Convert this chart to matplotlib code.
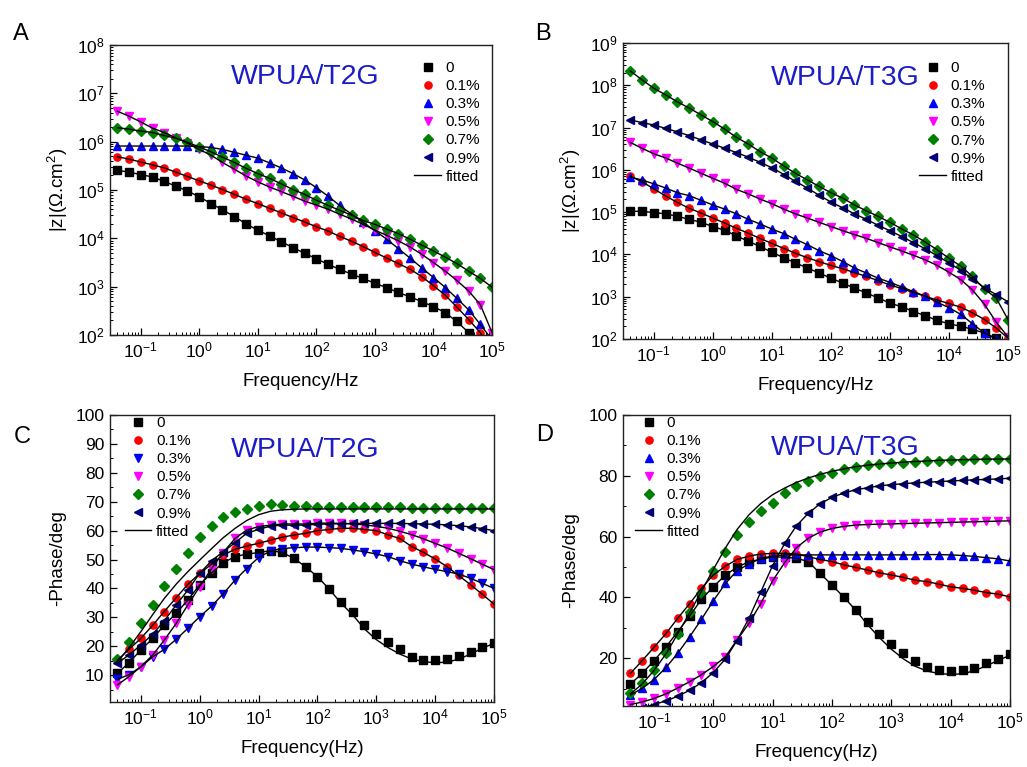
import numpy as np
import matplotlib.pyplot as plt
from matplotlib.lines import Line2D
from matplotlib.ticker import LogLocator, MultipleLocator, NullFormatter

plt.rcParams['font.family'] = ['Liberation Sans', 'DejaVu Sans']
plt.rcParams['mathtext.fontset'] = 'custom'
plt.rcParams['mathtext.rm'] = 'Liberation Sans'
plt.rcParams['mathtext.it'] = 'Liberation Sans:italic'
plt.rcParams['mathtext.bf'] = 'Liberation Sans:bold'

# ---------------- data ----------------
freq = [0.04, 0.063, 0.1, 0.16, 0.25, 0.4, 0.63, 1, 1.6, 2.5, 4, 6.3, 10, 16, 25, 40, 63,
        100, 160, 250, 400, 630, 1000, 1600, 2500, 4000, 6300,
        1e4, 1.6e4, 2.5e4, 4e4, 6.3e4, 1e5]

labels = ['0', '0.1%', '0.3%', '0.5%', '0.7%', '0.9%']
colors = ['#000000', '#ff0000', '#0000ff', '#ff00ff', '#008000', '#000080']

# A: WPUA/T2G, log10 |Z|
a_0 = [5.41, 5.37, 5.32, 5.27, 5.18, 5.08, 4.98, 4.86, 4.72, 4.59, 4.45, 4.30, 4.17, 4.05, 3.93, 3.81, 3.69,
       3.58, 3.46, 3.36, 3.26, 3.17, 3.07, 2.98, 2.88, 2.79, 2.69, 2.59, 2.46, 2.28, 2.05, 1.75, 1.35]
a_01 = [5.69, 5.64, 5.58, 5.52, 5.46, 5.37, 5.28, 5.19, 5.10, 5.01, 4.91, 4.81, 4.72, 4.62, 4.53, 4.43, 4.34,
        4.24, 4.15, 4.04, 3.94, 3.83, 3.71, 3.59, 3.48, 3.36, 3.21, 3.02, 2.82, 2.58, 2.32, 2.05, 1.60]
a_03 = [5.91, 5.91, 5.91, 5.91, 5.91, 5.91, 5.91, 5.90, 5.88, 5.84, 5.78, 5.72, 5.66, 5.56, 5.46, 5.34, 5.21,
        5.05, 4.87, 4.68, 4.50, 4.33, 4.16, 3.98, 3.79, 3.59, 3.39, 3.19, 2.98, 2.76, 2.52, 2.22, 1.90]
a_05 = [6.63, 6.53, 6.41, 6.28, 6.19, 6.08, 5.97, 5.84, 5.72, 5.57, 5.43, 5.29, 5.17, 5.06, 4.97, 4.87, 4.77,
        4.69, 4.60, 4.50, 4.40, 4.29, 4.17, 4.06, 3.95, 3.82, 3.67, 3.50, 3.32, 3.13, 2.91, 2.63, 2.05]
a_07 = [6.29, 6.26, 6.22, 6.19, 6.13, 6.07, 5.99, 5.89, 5.79, 5.68, 5.57, 5.45, 5.34, 5.24, 5.13, 5.01, 4.91,
        4.79, 4.68, 4.58, 4.48, 4.37, 4.29, 4.19, 4.10, 3.98, 3.86, 3.74, 3.61, 3.48, 3.32, 3.17, 2.99]
a_09 = []

# B: WPUA/T3G, log10 |Z|
b_0 = [5.02, 5.02, 4.99, 4.96, 4.90, 4.83, 4.76, 4.66, 4.57, 4.44, 4.31, 4.19, 4.05, 3.92, 3.80, 3.68, 3.56,
       3.44, 3.32, 3.20, 3.09, 2.97, 2.85, 2.76, 2.65, 2.55, 2.44, 2.36, 2.30, 2.23, 2.14, 2.02, 1.70]
b_01 = [5.85, 5.72, 5.55, 5.38, 5.23, 5.09, 4.98, 4.86, 4.74, 4.62, 4.50, 4.38, 4.26, 4.14, 4.03, 3.92, 3.83,
        3.74, 3.66, 3.57, 3.48, 3.38, 3.28, 3.19, 3.10, 3.01, 2.92, 2.84, 2.75, 2.62, 2.46, 2.26, 2.02]
b_03 = [5.83, 5.76, 5.67, 5.57, 5.46, 5.39, 5.28, 5.17, 5.07, 4.96, 4.83, 4.72, 4.60, 4.49, 4.36, 4.23, 4.09,
        3.97, 3.83, 3.68, 3.56, 3.44, 3.34, 3.23, 3.12, 3.01, 2.87, 2.74, 2.58, 2.36, 2.14, 2.00, 1.80]
b_05 = [6.65, 6.51, 6.38, 6.28, 6.16, 6.04, 5.92, 5.80, 5.68, 5.54, 5.43, 5.31, 5.20, 5.07, 4.96, 4.86, 4.76,
        4.66, 4.56, 4.47, 4.38, 4.28, 4.18, 4.08, 3.98, 3.87, 3.74, 3.58, 3.40, 3.16, 2.82, 2.40, 2.05]
b_07 = [8.34, 8.13, 7.93, 7.77, 7.61, 7.46, 7.30, 7.14, 6.96, 6.77, 6.61, 6.43, 6.28, 6.09, 5.92, 5.76, 5.61,
        5.46, 5.33, 5.17, 5.03, 4.90, 4.76, 4.60, 4.46, 4.29, 4.11, 3.91, 3.72, 3.48, 3.18, 2.97, 2.46]
b_09 = [7.18, 7.12, 7.06, 6.98, 6.90, 6.81, 6.71, 6.61, 6.51, 6.41, 6.30, 6.18, 6.05, 5.89, 5.73, 5.57, 5.40,
        5.24, 5.10, 4.96, 4.83, 4.69, 4.56, 4.42, 4.28, 4.13, 3.97, 3.80, 3.62, 3.42, 3.21, 3.05, 2.88]

# C: WPUA/T2G, -phase (deg)
c_0 = [10.6, 14.3, 18.7, 22.7, 27.3, 31.4, 36.0, 41.2, 45.4, 48.9, 51.0, 51.9, 52.4, 53.1, 52.5, 50.4, 47.5,
       44.1, 39.7, 35.4, 31.8, 27.3, 24.3, 21.6, 19.1, 16.3, 15.4, 15.4, 15.6, 16.6, 18.1, 19.7, 21.1]
c_0_fit = [10.6, 14.3, 18.7, 22.7, 27.3, 31.4, 36.0, 41.2, 45.4, 48.9, 51.0, 51.9, 52.4, 53.1, 52.5, 50.4, 47.5,
           44.1, 39.7, 35.0, 30.8, 26.0, 22.3, 19.5, 17.3, 15.6, 14.7, 14.3, 14.5, 15.5, 17.3, 19.3, 21.0]
c_01 = [15.2, 18.9, 22.7, 27.3, 32.0, 36.8, 41.4, 45.2, 48.4, 51.6, 53.5, 54.7, 55.6, 56.7, 57.7, 58.5, 59.1,
        60.0, 60.4, 60.8, 60.8, 60.4, 60.0, 58.5, 57.3, 54.5, 52.5, 50.2, 47.5, 44.5, 41.3, 38.0, 34.6]
c_03 = [8.5, 10.2, 12.8, 16.4, 18.9, 22.4, 26.2, 30.2, 33.9, 38.1, 42.9, 46.9, 50.7, 53.0, 53.8, 54.1, 54.3,
        54.3, 54.1, 53.9, 53.3, 52.7, 51.9, 51.0, 49.6, 48.4, 47.5, 46.6, 45.8, 45.0, 43.5, 41.8, 40.0]
c_05 = [6.6, 9.5, 12.9, 17.0, 22.1, 27.9, 34.3, 40.6, 46.9, 52.4, 57.3, 60.2, 61.4, 61.9, 62.3, 62.3, 62.3,
        62.6, 62.6, 62.5, 62.3, 62.0, 61.5, 60.8, 59.8, 58.6, 57.2, 55.6, 54.0, 52.2, 50.3, 48.4, 46.5]
c_07 = [15.5, 21.6, 27.9, 34.3, 40.8, 46.9, 52.4, 57.7, 61.6, 64.6, 66.4, 67.5, 68.5, 69.1, 68.9, 68.6, 68.5,
        68.3, 68.3, 68.3, 68.1, 68.1, 68.1, 68.1, 68.1, 68.0, 68.0, 68.0, 68.0, 68.0, 68.0, 68.0, 68.0]
c_07_fit = [14.5, 19.5, 25.0, 31.0, 36.5, 41.5, 45.8, 49.8, 53.8, 57.5, 60.8, 63.5, 65.5, 66.7, 67.2, 67.4, 67.5,
            67.5, 67.5, 67.5, 67.5, 67.5, 67.5, 67.5, 67.5, 67.5, 67.5, 67.5, 67.5, 67.5, 67.5, 67.5, 67.5]
c_09 = [14.1, 17.0, 20.4, 24.2, 28.8, 34.3, 39.4, 45.2, 49.6, 52.7, 55.8, 59.1, 60.4, 61.6, 61.9, 61.9, 61.9,
        62.2, 62.3, 62.4, 62.5, 62.5, 62.5, 62.5, 62.5, 62.4, 62.3, 62.2, 62.0, 61.7, 61.3, 60.7, 60.0]

# D: WPUA/T3G, -phase (deg)
d_0 = [11.5, 15.0, 19.2, 23.8, 28.7, 33.9, 39.4, 43.5, 47.4, 49.9, 51.8, 52.5, 53.4, 53.2, 52.9, 51.8, 47.9,
       44.1, 40.0, 35.9, 32.0, 28.0, 24.7, 21.8, 19.2, 17.2, 16.1, 15.9, 16.1, 16.9, 18.3, 19.8, 21.3]
d_0_fit = [11.5, 15.0, 19.2, 23.8, 28.7, 33.9, 39.4, 43.5, 47.4, 49.9, 51.8, 52.5, 53.4, 53.2, 52.9, 51.8, 47.9,
           44.1, 40.0, 35.9, 31.0, 26.8, 23.0, 19.8, 17.4, 15.8, 15.0, 14.7, 14.9, 15.9, 17.5, 19.3, 21.0]
d_01 = [15.0, 19.2, 23.6, 28.2, 33.1, 38.0, 43.0, 47.4, 50.3, 52.5, 53.6, 54.3, 54.5, 54.5, 54.3, 53.4, 52.5,
        51.8, 50.7, 49.9, 49.0, 48.1, 47.4, 46.6, 45.7, 45.2, 44.4, 43.5, 43.0, 42.4, 41.6, 41.1, 40.2]
d_03 = [7.9, 10.1, 13.0, 17.0, 21.6, 27.1, 32.8, 38.9, 44.6, 48.8, 51.0, 52.9, 53.6, 54.0, 54.0, 54.0, 54.0,
        54.0, 54.0, 54.0, 54.0, 54.0, 54.0, 54.0, 54.0, 54.1, 54.1, 54.0, 53.8, 53.5, 53.1, 52.7, 52.0]
d_05 = [4.8, 5.6, 6.8, 8.3, 10.2, 12.3, 14.6, 17.3, 20.5, 26.0, 31.5, 38.0, 45.5, 51.5, 56.3, 59.5, 61.5,
        62.7, 63.4, 63.8, 64.0, 64.1, 64.2, 64.3, 64.4, 64.5, 64.6, 64.7, 64.8, 64.9, 65.0, 65.1, 65.2]
d_07 = [8.5, 11.8, 16.3, 21.6, 28.0, 35.3, 41.6, 48.8, 55.0, 60.5, 64.9, 68.4, 71.2, 74.2, 76.6, 78.3, 79.8,
        81.0, 82.1, 83.0, 83.6, 83.9, 84.1, 84.3, 84.6, 84.9, 85.0, 85.2, 85.2, 85.4, 85.4, 85.5, 85.5]
d_07_fit = [8.3, 11.5, 16.0, 21.5, 28.0, 35.0, 42.0, 49.2, 56.3, 62.3, 67.2, 70.9, 73.8, 76.0, 77.8, 79.3, 80.5,
            81.5, 82.3, 83.0, 83.5, 83.9, 84.2, 84.5, 84.7, 84.9, 85.1, 85.2, 85.3, 85.4, 85.5, 85.5, 85.6]
d_09 = [3.0, 3.8, 4.8, 6.0, 7.5, 9.5, 12.0, 15.3, 19.8, 25.8, 33.2, 41.8, 50.5, 57.8, 63.5, 67.7, 70.8,
        72.9, 74.4, 75.4, 76.1, 76.7, 77.1, 77.4, 77.7, 77.9, 78.1, 78.3, 78.5, 78.7, 78.8, 79.0, 79.2]

# ---------------- figure ----------------
fig = plt.figure(figsize=(10.27, 7.67), dpi=100)
axA = fig.add_axes([0.1071, 0.5632, 0.3720, 0.3781])
axB = fig.add_axes([0.6066, 0.5580, 0.3749, 0.3859])
axC = fig.add_axes([0.1071, 0.0847, 0.3739, 0.3742])
axD = fig.add_axes([0.6066, 0.0795, 0.3768, 0.3794])

title_blue = '#1c1cc8'


def draw_panel(ax, series, markers, log_y):
    handles = []
    for (pts, fit), lab, col, mk in zip(series, labels, colors, markers):
        x = freq[:len(pts)]
        y = 10 ** np.array(pts) if log_y else np.array(pts)
        ms = 4.6 if mk == 'D' else 5.2
        h, = ax.plot(x, y, ls='none', marker=mk, ms=ms, color=col, mec=col, zorder=2)
        if len(pts):
            yf = y if fit is None else (10 ** np.array(fit) if log_y else np.array(fit))
            ax.plot(x, yf, color='black', lw=1.0, zorder=3)
        handles.append(h)
    handles.append(Line2D([], [], color='black', lw=1.0))
    return handles


def style_axis(ax):
    ax.set_xscale('log')
    ax.set_xlim(0.03, 1e5)
    ax.xaxis.set_major_locator(LogLocator(base=10, numticks=20))
    ax.xaxis.set_minor_locator(LogLocator(base=10, subs=np.arange(2, 10), numticks=100))
    ax.xaxis.set_minor_formatter(NullFormatter())
    ax.tick_params(which='both', direction='in', top=False, right=False, labelsize=12.5)
    ax.tick_params(which='major', length=5, width=0.9, pad=4)
    ax.tick_params(which='minor', length=2.5, width=0.7)
    for s in ax.spines.values():
        s.set_linewidth(1.0)
        s.set_color('#222222')


leg_kw = dict(frameon=False, fontsize=11, handlelength=1.75, handletextpad=0.3,
              labelspacing=0.27, borderpad=0, borderaxespad=0)

# A
h = draw_panel(axA, [(a_0, None), (a_01, None), (a_03, None), (a_05, None), (a_07, None), (a_09, None)],
               ['s', 'o', '^', 'v', 'D', '<'], True)
style_axis(axA)
axA.set_yscale('log')
axA.set_ylim(1e2, 1e8)
axA.yaxis.set_major_locator(LogLocator(base=10, numticks=20))
axA.yaxis.set_minor_locator(LogLocator(base=10, subs=np.arange(2, 10), numticks=100))
axA.yaxis.set_minor_formatter(NullFormatter())
axA.set_xlabel('Frequency/Hz', fontsize=13.5, labelpad=9)
axA.set_ylabel('|z|(Ω.cm$^2$)', fontsize=13.5, labelpad=5)
axA.text(0.51, 0.89, 'WPUA/T2G', transform=axA.transAxes, color=title_blue, fontsize=20.5,
         ha='center', va='center')
axA.legend(h, labels + ['fitted'], loc='upper left', bbox_to_anchor=(0.797, 0.945), **leg_kw)

# B
h = draw_panel(axB, [(b_0, None), (b_01, None), (b_03, None), (b_05, None), (b_07, None), (b_09, None)],
               ['s', 'o', '^', 'v', 'D', '<'], True)
style_axis(axB)
axB.set_yscale('log')
axB.set_ylim(1e2, 1e9)
axB.yaxis.set_major_locator(LogLocator(base=10, numticks=20))
axB.yaxis.set_minor_locator(LogLocator(base=10, subs=np.arange(2, 10), numticks=100))
axB.yaxis.set_minor_formatter(NullFormatter())
axB.set_xlabel('Frequency/Hz', fontsize=13.5, labelpad=9)
axB.set_ylabel('|z|(Ω.cm$^2$)', fontsize=13.5, labelpad=5)
axB.text(0.577, 0.882, 'WPUA/T3G', transform=axB.transAxes, color=title_blue, fontsize=20.5,
         ha='center', va='center')
axB.legend(h, labels + ['fitted'], loc='upper left', bbox_to_anchor=(0.770, 0.939), **leg_kw)

# C
h = draw_panel(axC, [(c_0, c_0_fit), (c_01, None), (c_03, None), (c_05, None), (c_07, c_07_fit), (c_09, None)],
               ['s', 'o', 'v', 'v', 'D', '<'], False)
style_axis(axC)
axC.set_ylim(0.7, 100)
axC.set_yticks(np.arange(10, 101, 10))
axC.yaxis.set_minor_locator(MultipleLocator(5))
axC.set_xlabel('Frequency(Hz)', fontsize=13.5, labelpad=9)
axC.set_ylabel('-Phase/deg', fontsize=13.5, labelpad=7)
axC.text(0.508, 0.878, 'WPUA/T2G', transform=axC.transAxes, color=title_blue, fontsize=20.5,
         ha='center', va='center')
axC.legend(h, labels + ['fitted'], loc='upper left', bbox_to_anchor=(0.038, 0.997), **leg_kw)

# D
h = draw_panel(axD, [(d_0, d_0_fit), (d_01, None), (d_03, None), (d_05, None), (d_07, d_07_fit), (d_09, None)],
               ['s', 'o', '^', 'v', 'D', '<'], False)
style_axis(axD)
axD.set_ylim(4.3, 100)
axD.set_yticks(np.arange(20, 101, 20))
axD.yaxis.set_minor_locator(MultipleLocator(10))
axD.set_xlabel('Frequency(Hz)', fontsize=13.5, labelpad=9)
axD.set_ylabel('-Phase/deg', fontsize=13.5, labelpad=7)
axD.text(0.574, 0.887, 'WPUA/T3G', transform=axD.transAxes, color=title_blue, fontsize=20.5,
         ha='center', va='center')
axD.legend(h, labels + ['fitted'], loc='upper left', bbox_to_anchor=(0.032, 0.997), **leg_kw)

# panel letters
for letter, x, y in [('A', 0.020, 0.956), ('B', 0.529, 0.956), ('C', 0.022, 0.430), ('D', 0.530, 0.433)]:
    fig.text(x, y, letter, fontsize=17, ha='center', va='center')

fig.savefig('out.png', dpi=100)
